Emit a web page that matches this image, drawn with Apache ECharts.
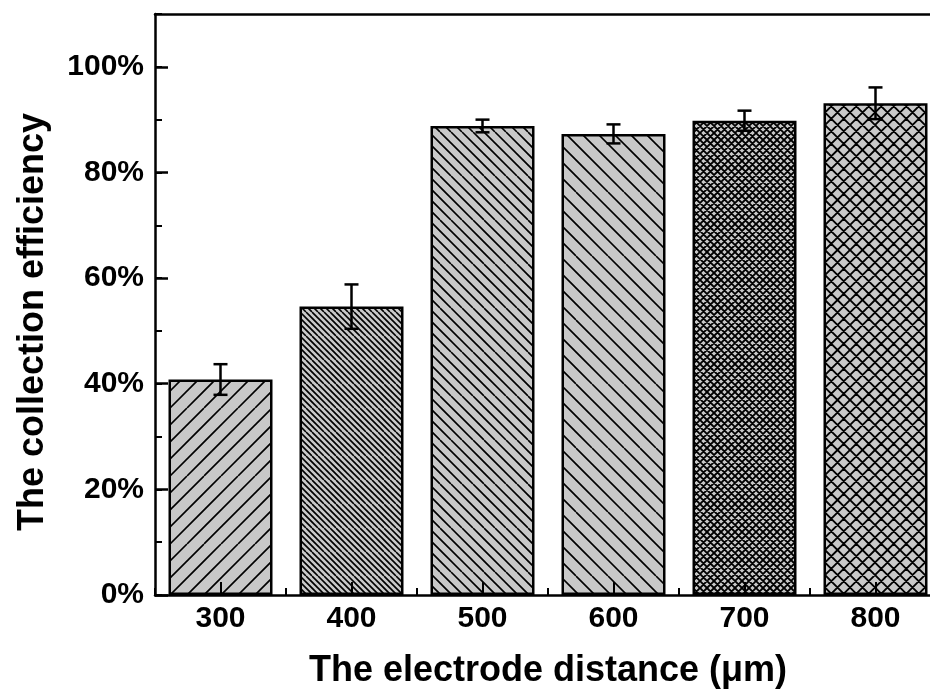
<!DOCTYPE html>
<html>
<head>
<meta charset="utf-8">
<script src="https://cdn.jsdelivr.net/npm/echarts@6/dist/echarts.min.js"></script>
<style>html,body{margin:0;padding:0;background:#fff;}#c{width:930px;height:696px;}</style>
</head>
<body>
<div id="c"></div>
<script>
// ---- data ----
var categories = ['300', '400', '500', '600', '700', '800'];
var efficiency = [40.8, 54.6, 88.8, 87.3, 89.8, 93.1];
var errors = [2.9, 4.2, 1.2, 1.8, 1.9, 3.0];
var hatchTypes = ['fwd', 'back', 'back', 'back', 'cross', 'cross'];
var hatchSpacing = [17, 6, 11, 16, 7, 12.5];

var FONT = '"Liberation Sans", Arial, sans-serif';

function makePattern(type, s) {
  var size = Math.round(s * 4);
  var step = size / Math.round(size / s);
  var c = document.createElement('canvas');
  c.width = size; c.height = size;
  var g = c.getContext('2d');
  g.fillStyle = '#c8c8c8';
  g.fillRect(0, 0, size, size);
  g.strokeStyle = '#000';
  g.lineWidth = type === 'cross' ? 1.9 : 1.6;
  g.beginPath();
  for (var k = -size; k <= 2 * size; k += step) {
    if (type === 'fwd' || type === 'cross') {
      g.moveTo(k, size); g.lineTo(k + size, 0);
    }
    if (type === 'back' || type === 'cross') {
      g.moveTo(k, 0); g.lineTo(k + size, size);
    }
  }
  g.stroke();
  return { image: c, repeat: 'repeat' };
}

var barData = efficiency.map(function (v, i) {
  return {
    value: v,
    itemStyle: { color: makePattern(hatchTypes[i], hatchSpacing[i]) }
  };
});
var errData = efficiency.map(function (v, i) { return [i, v, errors[i]]; });

var chart = echarts.init(document.getElementById('c'), null, { renderer: 'canvas' });
chart.setOption({
  backgroundColor: '#fff',
  animation: false,
  grid: { left: 155, width: 786, top: 14, bottom: 101, containLabel: false, outerBoundsMode: 'none' },
  xAxis: [
    {
      type: 'category', data: categories, position: 'bottom', z: 10,
      axisLine: { show: true, lineStyle: { color: '#000', width: 2.5 } },
      axisTick: { show: true, inside: true, alignWithLabel: true, length: 13, lineStyle: { color: '#000', width: 2 } },
      axisLabel: { color: '#000', fontSize: 30, fontWeight: 'bold', fontFamily: FONT, margin: 9 },
      name: 'The electrode distance (μm)', nameLocation: 'middle', nameGap: 58,
      nameTextStyle: { color: '#000', fontSize: 36, fontWeight: 'bold', fontFamily: FONT },
      splitLine: { show: false }
    },
    {
      type: 'category', data: categories, position: 'bottom', gridIndex: 0, z: 10,
      axisLine: { show: false },
      axisTick: { show: true, inside: true, length: 7, lineStyle: { color: '#000', width: 2 } },
      axisLabel: { show: false },
      splitLine: { show: false }
    },
    {
      type: 'category', data: categories, position: 'top', gridIndex: 0, z: 10,
      axisLine: { show: true, lineStyle: { color: '#000', width: 2.5 } },
      axisTick: { show: false }, axisLabel: { show: false }, splitLine: { show: false }
    }
  ],
  yAxis: [
    {
      type: 'value', min: 0, max: 110, interval: 20, position: 'left', z: 10,
      axisLine: { show: true, lineStyle: { color: '#000', width: 2.5 } },
      axisTick: { show: true, inside: true, length: 13, lineStyle: { color: '#000', width: 2.5 } },
      axisLabel: { color: '#000', fontSize: 30, fontWeight: 'bold', fontFamily: FONT, margin: 11,
        showMaxLabel: false,
        formatter: function (v) { return v > 100 ? '' : v + '%'; } },
      splitLine: { show: false },
      name: 'The collection efficiency', nameLocation: 'middle', nameGap: 104,
      nameTextStyle: { color: '#000', fontSize: 36, fontWeight: 'bold', fontFamily: FONT, padding: [0, 35, 0, 0] }
    },
    {
      type: 'value', min: 0, max: 110, interval: 10, position: 'left', z: 10,
      axisLine: { show: false },
      axisTick: { show: true, inside: true, length: 7, lineStyle: { color: '#000', width: 2 } },
      axisLabel: { show: false },
      splitLine: { show: false }
    }
  ],
  series: [
    {
      type: 'bar', data: barData, barWidth: 104, xAxisIndex: 0, yAxisIndex: 0,
      itemStyle: { borderColor: '#000', borderWidth: 2.5 },
      z: 2
    },
    {
      type: 'custom', data: errData, xAxisIndex: 0, yAxisIndex: 0, z: 5,
      renderItem: function (params, api) {
        var x = api.value(0), m = api.value(1), e = api.value(2);
        var top = api.coord([x, m + e]);
        var bot = api.coord([x, m - e]);
        var hw = 7;
        var st = { stroke: '#000', lineWidth: 2.5 };
        return {
          type: 'group',
          children: [
            { type: 'line', shape: { x1: top[0], y1: top[1], x2: bot[0], y2: bot[1] }, style: st },
            { type: 'line', shape: { x1: top[0] - hw, y1: top[1], x2: top[0] + hw, y2: top[1] }, style: st },
            { type: 'line', shape: { x1: bot[0] - hw, y1: bot[1], x2: bot[0] + hw, y2: bot[1] }, style: st }
          ]
        };
      }
    }
  ]
});
</script>
</body>
</html>
